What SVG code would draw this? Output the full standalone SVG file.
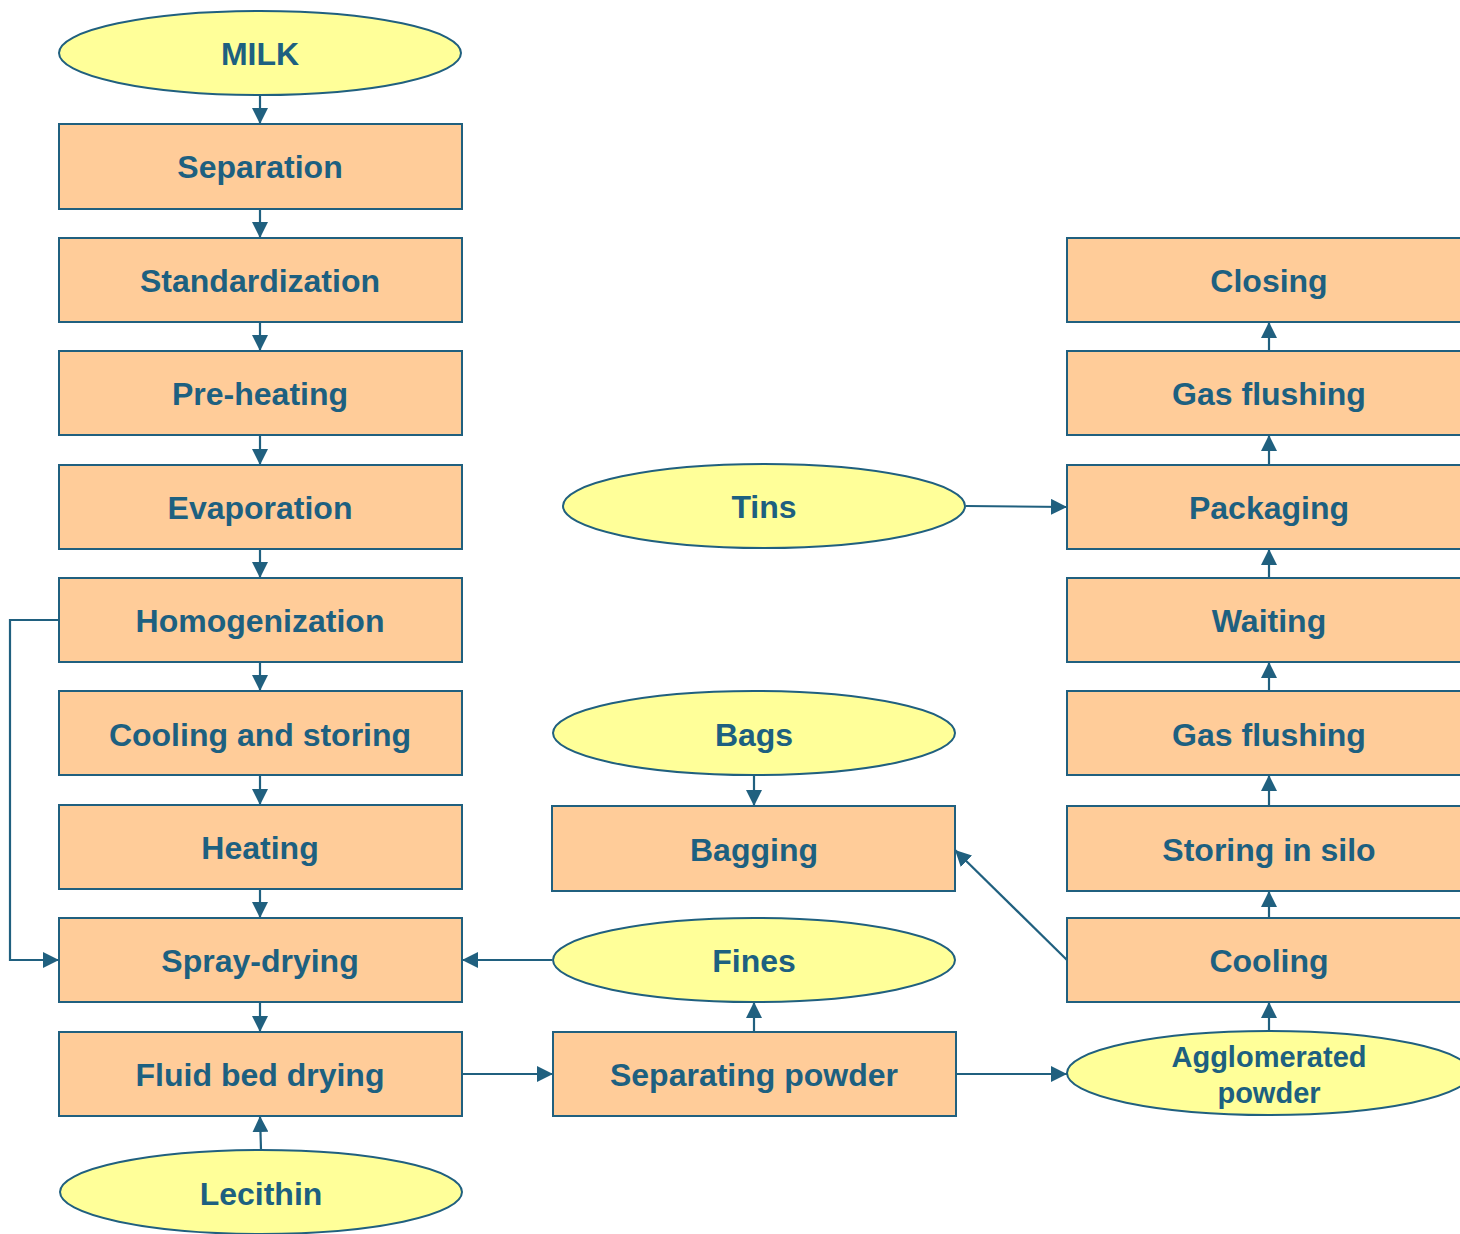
<svg xmlns="http://www.w3.org/2000/svg" width="1460" height="1234" viewBox="0 0 1460 1234">
<style>
.box{fill:#FFCC99;stroke:#20607f;stroke-width:2}
.ell{fill:#FFFF99;stroke:#20607f;stroke-width:2}
.t{font-family:"Liberation Sans",Arial,sans-serif;font-weight:bold;font-size:32px;fill:#1d6080;text-anchor:middle}
.s{font-size:29px}
.c{fill:none;stroke:#20607f;stroke-width:2.2;marker-end:url(#ah)}
</style>
<defs>
<marker id="ah" viewBox="0 0 10 10" refX="10" refY="5" markerWidth="16" markerHeight="16" markerUnits="userSpaceOnUse" orient="auto">
<path d="M0,0 L10,5 L0,10 z" fill="#20607f"/>
</marker>
</defs>
<rect width="1460" height="1234" fill="#fff"/>
<g id="connectors">
<path class="c" d="M260,95 V124"/>
<path class="c" d="M260,209 V238"/>
<path class="c" d="M260,322 V351"/>
<path class="c" d="M260,435 V465"/>
<path class="c" d="M260,549 V578"/>
<path class="c" d="M260,662 V691"/>
<path class="c" d="M260,775 V805"/>
<path class="c" d="M260,889 V918"/>
<path class="c" d="M260,1002 V1032"/>
<path class="c" d="M261,1150 L260,1116"/>
<path class="c" d="M59,620 H10 V960 H59"/>
<path class="c" d="M552,960 H462"/>
<path class="c" d="M462,1074 H553"/>
<path class="c" d="M956,1074 H1067"/>
<path class="c" d="M754,1032 V1002"/>
<path class="c" d="M754,775 V806"/>
<path class="c" d="M1067,960 L955,850"/>
<path class="c" d="M966,506 L1067,507"/>
<path class="c" d="M1269,1031 V1002"/>
<path class="c" d="M1269,918 V891"/>
<path class="c" d="M1269,806 V775"/>
<path class="c" d="M1269,691 V662"/>
<path class="c" d="M1269,578 V549"/>
<path class="c" d="M1269,465 V435"/>
<path class="c" d="M1269,351 V322"/>
</g>
<g id="milk"><ellipse class="ell" cx="260" cy="53" rx="201" ry="42"/><text class="t" x="260" y="65">MILK</text></g>
<g id="separation"><rect class="box" x="59" y="124" width="403" height="85"/><text class="t" x="260" y="178">Separation</text></g>
<g id="standardization"><rect class="box" x="59" y="238" width="403" height="84"/><text class="t" x="260" y="292">Standardization</text></g>
<g id="preheating"><rect class="box" x="59" y="351" width="403" height="84"/><text class="t" x="260" y="405">Pre-heating</text></g>
<g id="evaporation"><rect class="box" x="59" y="465" width="403" height="84"/><text class="t" x="260" y="519">Evaporation</text></g>
<g id="homogenization"><rect class="box" x="59" y="578" width="403" height="84"/><text class="t" x="260" y="632">Homogenization</text></g>
<g id="coolingstoring"><rect class="box" x="59" y="691" width="403" height="84"/><text class="t" x="260" y="746">Cooling and storing</text></g>
<g id="heating"><rect class="box" x="59" y="805" width="403" height="84"/><text class="t" x="260" y="859">Heating</text></g>
<g id="spraydrying"><rect class="box" x="59" y="918" width="403" height="84"/><text class="t" x="260" y="972">Spray-drying</text></g>
<g id="fluidbed"><rect class="box" x="59" y="1032" width="403" height="84"/><text class="t" x="260" y="1086">Fluid bed drying</text></g>
<g id="lecithin"><ellipse class="ell" cx="261" cy="1192" rx="201" ry="42"/><text class="t" x="261" y="1205">Lecithin</text></g>
<g id="tins"><ellipse class="ell" cx="764" cy="506" rx="201" ry="42"/><text class="t" x="764" y="518">Tins</text></g>
<g id="bags"><ellipse class="ell" cx="754" cy="733" rx="201" ry="42"/><text class="t" x="754" y="746">Bags</text></g>
<g id="bagging"><rect class="box" x="552" y="806" width="403" height="85"/><text class="t" x="754" y="861">Bagging</text></g>
<g id="fines"><ellipse class="ell" cx="754" cy="960" rx="201" ry="42"/><text class="t" x="754" y="972">Fines</text></g>
<g id="separatingpowder"><rect class="box" x="553" y="1032" width="403" height="84"/><text class="t" x="754" y="1086">Separating powder</text></g>
<g id="closing"><rect class="box" x="1067" y="238" width="403" height="84"/><text class="t" x="1269" y="292">Closing</text></g>
<g id="gasflushing1"><rect class="box" x="1067" y="351" width="403" height="84"/><text class="t" x="1269" y="405">Gas flushing</text></g>
<g id="packaging"><rect class="box" x="1067" y="465" width="403" height="84"/><text class="t" x="1269" y="519">Packaging</text></g>
<g id="waiting"><rect class="box" x="1067" y="578" width="403" height="84"/><text class="t" x="1269" y="632">Waiting</text></g>
<g id="gasflushing2"><rect class="box" x="1067" y="691" width="403" height="84"/><text class="t" x="1269" y="746">Gas flushing</text></g>
<g id="storingsilo"><rect class="box" x="1067" y="806" width="403" height="85"/><text class="t" x="1269" y="861">Storing in silo</text></g>
<g id="cooling"><rect class="box" x="1067" y="918" width="403" height="84"/><text class="t" x="1269" y="972">Cooling</text></g>
<g id="agglomerated"><ellipse class="ell" cx="1269" cy="1073" rx="202" ry="42"/><text class="t s" x="1269" y="1067">Agglomerated</text><text class="t s" x="1269" y="1103">powder</text></g>
</svg>
